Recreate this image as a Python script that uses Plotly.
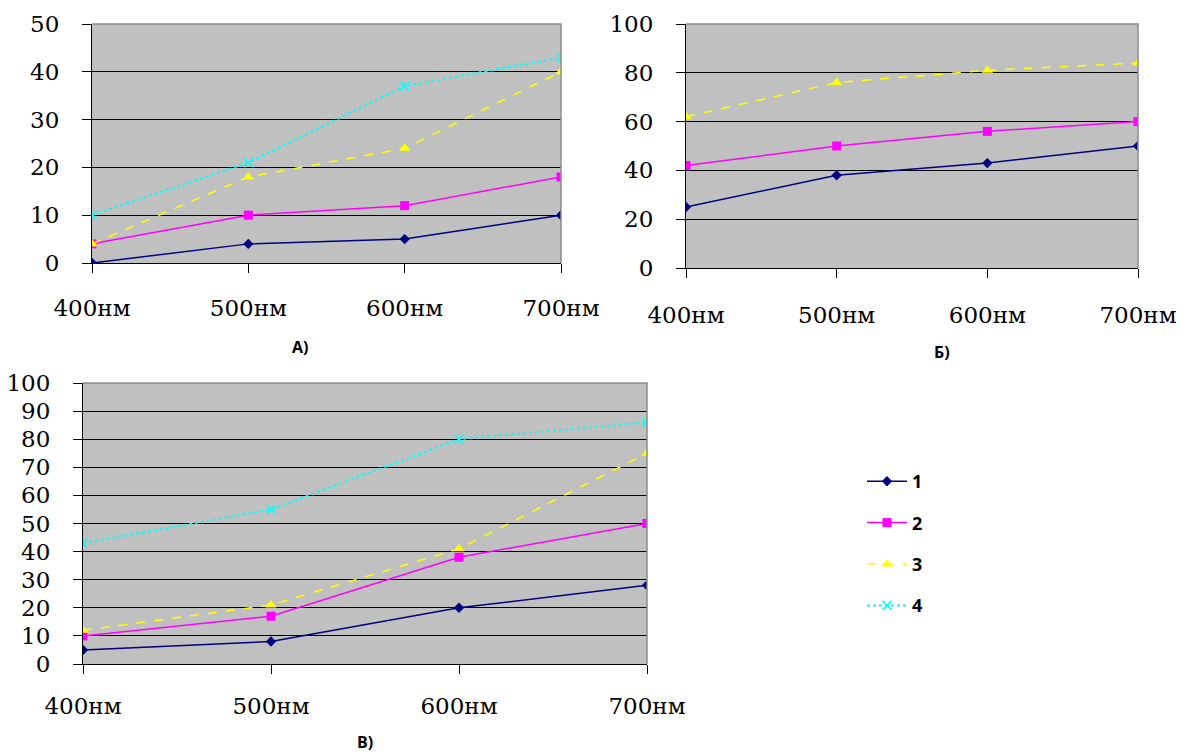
import plotly.graph_objects as go

categories = ["400нм", "500нм", "600нм", "700нм"]
series_names = ["1", "2", "3", "4"]

# Panel A
a_s1 = [0, 4, 5, 10]
a_s2 = [4, 10, 12, 18]
a_s3 = [4, 18, 24, 40]
a_s4 = [10, 21, 37, 43]
# Panel Б
b_s1 = [25, 38, 43, 50]
b_s2 = [42, 50, 56, 60]
b_s3 = [62, 76, 81, 84]
# Panel В
v_s1 = [5, 8, 20, 28]
v_s2 = [10, 17, 38, 50]
v_s3 = [12, 21, 41, 75]
v_s4 = [43, 55, 80, 86]

panel_labels = ["А)", "Б)", "В)"]

colors = ["#000080", "#FF00FF", "#FFFF00", "#00FFFF"]
symbols = ["diamond", "square", "triangle-up", "x-thin-open"]
msizes = [8, 9, 10, 9]
dashes = ["solid", "solid", "dash", "dot"]
lwidths = [1.5, 1.5, 1.5, 2]

W, H = 1193, 755

def px2x(p):
    return p / W

def px2y(p):
    return 1 - p / H

fig = go.Figure()

xs = list(range(len(categories)))

panels = [
    ("x", "y", [a_s1, a_s2, a_s3, a_s4], False),
    ("x2", "y2", [b_s1, b_s2, b_s3], False),
    ("x3", "y3", [v_s1, v_s2, v_s3, v_s4], True),
]

for xa, ya, data, showleg in panels:
    for i, vals in enumerate(data):
        fig.add_trace(go.Scatter(
            x=xs, y=vals, xaxis=xa, yaxis=ya,
            mode="lines+markers",
            name=series_names[i],
            legendgroup=series_names[i],
            showlegend=showleg,
            line=dict(color=colors[i], width=lwidths[i], dash=dashes[i]),
            marker=dict(symbol=symbols[i], size=msizes[i], color=colors[i],
                        line=dict(color=colors[i], width=1.5 if i == 3 else 0)),
        ))

tickfont = dict(family="DejaVu Serif", size=23, color="#000")

def xaxis(domain, anchor, standoff):
    return dict(domain=domain, anchor=anchor, range=[0, 3],
                tickvals=xs, ticktext=categories, tickfont=tickfont,
                showline=True, linecolor="#000", linewidth=1,
                ticks="outside", ticklen=9, tickcolor="#000",
                ticklabelstandoff=standoff, showgrid=False, zeroline=False,
                automargin=False, fixedrange=True)

def yaxis(domain, anchor, rng, dtick):
    return dict(domain=domain, anchor=anchor, range=rng, dtick=dtick,
                tickfont=tickfont, showline=True, linecolor="#000", linewidth=1,
                ticks="outside", ticklen=9, tickcolor="#000",
                ticklabelstandoff=18, showgrid=True, gridcolor="#000",
                gridwidth=1, zeroline=False, automargin=False, fixedrange=True)

fig.update_layout(
    width=W, height=H,
    margin=dict(l=0, r=0, t=0, b=0, autoexpand=False),
    paper_bgcolor="white",
    plot_bgcolor="#C0C0C0",
    xaxis=xaxis([px2x(92), px2x(561)], "y", 15),
    yaxis=yaxis([px2y(263), px2y(24)], "x", [0, 50], 10),
    xaxis2=xaxis([px2x(686), px2x(1138)], "y2", 17),
    yaxis2=yaxis([px2y(268), px2y(24)], "x2", [0, 100], 20),
    xaxis3=xaxis([px2x(83), px2x(647)], "y3", 12),
    yaxis3=yaxis([px2y(664), px2y(383)], "x3", [0, 100], 10),
    legend=dict(x=px2x(862), y=px2y(463), xanchor="left", yanchor="top",
                font=dict(family="Open Sans", size=18, color="#000", weight="bold"),
                tracegroupgap=15, traceorder="grouped", bgcolor="rgba(0,0,0,0)",
                itemwidth=40),
    showlegend=True,
)

# gray frame on the top and right edges of each plot area
for xa, ya in [("x", "y"), ("x2", "y2"), ("x3", "y3")]:
    fig.add_shape(type="path", xref=f"{xa} domain", yref=f"{ya} domain",
                  path="M 0 1 L 1 1 L 1 0", line=dict(color="#8C8C8C", width=1.5),
                  layer="above")

label_font = dict(family="Open Sans", size=16, color="#000", weight="bold")
label_pos = [(300, 347), (942, 352), (365, 742)]
for txt, (lx, ly) in zip(panel_labels, label_pos):
    fig.add_annotation(x=px2x(lx), y=px2y(ly), xref="paper", yref="paper",
                       text=txt, showarrow=False, font=label_font,
                       xanchor="center", yanchor="middle")

fig.write_html("out.html")
